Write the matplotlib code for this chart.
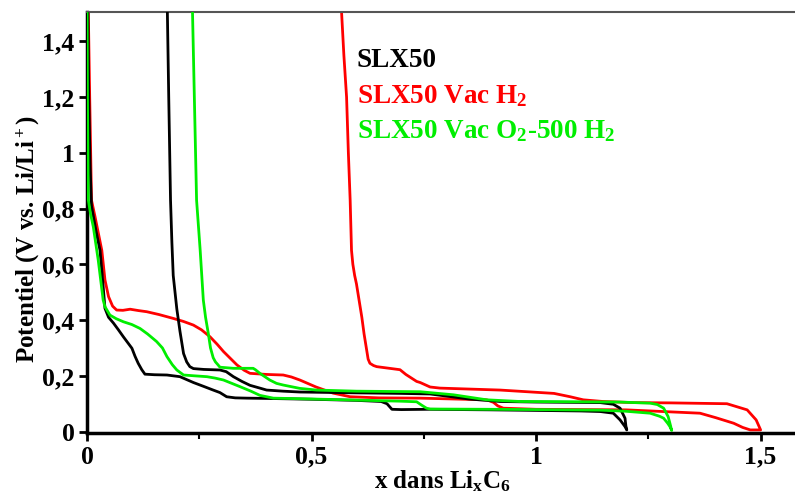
import numpy as np
import matplotlib
matplotlib.use("Agg")
import matplotlib.pyplot as plt
from matplotlib.ticker import FixedLocator

plt.rcParams['font.family'] = ['Liberation Serif', 'DejaVu Serif']
plt.rcParams['font.weight'] = 'bold'
plt.rcParams['mathtext.fontset'] = 'custom'
plt.rcParams['mathtext.rm'] = 'Liberation Serif:bold'
plt.rcParams['mathtext.it'] = 'Liberation Serif:bold'
plt.rcParams['mathtext.bf'] = 'Liberation Serif:bold'

#======================#
# data (x dans LixC6, potentiel V)
#======================#
slx50_x = [0.001, 0.004, 0.007, 0.01, 0.02, 0.029, 0.035, 0.04, 0.048, 0.059, 0.07, 0.081,
           0.1, 0.107, 0.114, 0.122, 0.129, 0.15, 0.178, 0.207, 0.237, 0.26, 0.281, 0.296,
           0.311, 0.33, 0.356, 0.4, 0.5, 0.6, 0.655, 0.668, 0.679, 0.7, 0.76, 0.9, 1.0, 1.1,
           1.143, 1.172, 1.187, 1.198, 1.202,
           1.2, 1.198, 1.187, 1.172, 1.143, 1.0, 0.92, 0.85, 0.764, 0.7, 0.6, 0.474, 0.437,
           0.4, 0.385, 0.363, 0.345, 0.326, 0.31, 0.296, 0.26, 0.237, 0.229, 0.222, 0.215,
           0.207, 0.2, 0.196, 0.192, 0.189, 0.186, 0.182, 0.178]
slx50_v = [1.6, 1.2, 0.95, 0.81, 0.72, 0.65, 0.54, 0.442, 0.41, 0.389, 0.365, 0.34,
           0.299, 0.27, 0.245, 0.222, 0.206, 0.204, 0.203, 0.197, 0.176, 0.162, 0.149, 0.14,
           0.125, 0.121, 0.12, 0.119, 0.116, 0.112, 0.108, 0.1, 0.08, 0.079, 0.08, 0.078, 0.076, 0.074,
           0.072, 0.066, 0.042, 0.018, 0.006,
           0.02, 0.048, 0.084, 0.098, 0.104, 0.106, 0.108, 0.117, 0.135, 0.137, 0.139, 0.142, 0.145,
           0.149, 0.156, 0.166, 0.18, 0.197, 0.215, 0.221, 0.223, 0.226, 0.233, 0.25, 0.28,
           0.36, 0.44, 0.5, 0.56, 0.68, 0.83, 1.2, 1.6]

vac_h2_x = [0.002, 0.003, 0.006, 0.01, 0.018, 0.033, 0.04, 0.048, 0.057, 0.066, 0.08, 0.096,
            0.115, 0.133, 0.16, 0.192, 0.215, 0.237, 0.255, 0.274, 0.29, 0.304, 0.334, 0.35,
            0.363, 0.4, 0.437, 0.455, 0.474, 0.51, 0.548, 0.586, 0.65, 0.742, 0.89, 0.905,
            0.915, 0.927, 1.0, 1.2, 1.365, 1.4, 1.44, 1.46, 1.477, 1.5,
            1.5, 1.49, 1.47, 1.425, 1.3, 1.216, 1.149, 1.105, 1.076, 1.04, 0.92, 0.786, 0.764,
            0.742, 0.734, 0.71, 0.697, 0.645, 0.638, 0.63, 0.626, 0.623, 0.617, 0.612, 0.606,
            0.6, 0.596, 0.592, 0.589, 0.586, 0.582, 0.578, 0.572, 0.567, 0.566]
vac_h2_v = [1.6, 1.5, 1.2, 0.83, 0.77, 0.65, 0.544, 0.484, 0.45, 0.436, 0.435, 0.439,
            0.434, 0.43, 0.42, 0.406, 0.395, 0.382, 0.365, 0.34, 0.313, 0.287, 0.239, 0.22,
            0.209, 0.205, 0.203, 0.196, 0.185, 0.16, 0.138, 0.125, 0.121, 0.12, 0.114, 0.105,
            0.092, 0.084, 0.08, 0.078, 0.066, 0.05, 0.03, 0.015, 0.006, 0.006,
            0.006, 0.042, 0.078, 0.1, 0.103, 0.104, 0.108, 0.114, 0.125, 0.137, 0.149, 0.156, 0.16,
            0.176, 0.18, 0.205, 0.222, 0.233, 0.237, 0.245, 0.26, 0.29, 0.35, 0.41, 0.47,
            0.53, 0.56, 0.6, 0.65, 0.83, 1.0, 1.2, 1.35, 1.5, 1.6]

vac_o2_x = [0.0, 0.001, 0.003, 0.008, 0.014, 0.025, 0.036, 0.04, 0.051, 0.065, 0.081, 0.1,
            0.118, 0.135, 0.155, 0.168, 0.178, 0.19, 0.2, 0.215, 0.24, 0.267, 0.285, 0.304, 0.341,
            0.365, 0.385, 0.4, 0.415, 0.5, 0.6, 0.7, 0.734, 0.745, 0.756, 0.764, 0.9, 1.0,
            1.143, 1.2, 1.254, 1.275, 1.284, 1.293, 1.298, 1.302,
            1.298, 1.294, 1.284, 1.27, 1.254, 1.187, 1.1, 0.964, 0.89, 0.816, 0.742, 0.6,
            0.511, 0.474, 0.437, 0.422, 0.407, 0.385, 0.375, 0.37, 0.326, 0.296, 0.292, 0.286,
            0.281, 0.275, 0.27, 0.264, 0.259, 0.252, 0.244, 0.235, 0.234]
vac_o2_v = [1.6, 1.2, 0.83, 0.78, 0.735, 0.615, 0.472, 0.448, 0.418, 0.405, 0.394, 0.384,
            0.37, 0.35, 0.323, 0.3, 0.269, 0.24, 0.221, 0.203, 0.2, 0.197, 0.192, 0.185, 0.161,
            0.145, 0.13, 0.125, 0.12, 0.117, 0.113, 0.109, 0.107, 0.095, 0.084, 0.081, 0.08, 0.079,
            0.077, 0.073, 0.066, 0.055, 0.048, 0.03, 0.018, 0.004,
            0.03, 0.054, 0.084, 0.097, 0.102, 0.106, 0.107, 0.108, 0.114, 0.132, 0.143, 0.145,
            0.149, 0.155, 0.167, 0.173, 0.185, 0.209, 0.222, 0.227, 0.227, 0.231, 0.239, 0.25,
            0.265, 0.3, 0.353, 0.41, 0.472, 0.651, 0.83, 1.5, 1.6]

labels = ["SLX50", "SLX50 Vac H$_2$", "SLX50 Vac O$_2$-500 H$_2$"]
colors = ["#000000", "#ff0000", "#00ee00"]

x_ticks = [0, 0.5, 1, 1.5]
x_ticklabels = ["0", "0,5", "1", "1,5"]
x_minor = [0.25, 0.75, 1.25]
y_ticks = [0, 0.2, 0.4, 0.6, 0.8, 1.0, 1.2, 1.4]
y_ticklabels = ["0", "0,2", "0,4", "0,6", "0,8", "1", "1,2", "1,4"]

#======================#
fig = plt.figure(figsize=(7.95, 4.94), dpi=100)
ax = fig.add_axes([87 / 795, 61 / 494, 710 / 795, 421 / 494])

ax.plot(vac_h2_x, vac_h2_v, color=colors[1], lw=2.0, zorder=2)
ax.plot(slx50_x, slx50_v, color=colors[0], lw=2.0, zorder=3)
ax.plot(vac_o2_x, vac_o2_v, color=colors[2], lw=2.0, zorder=4)

ax.set_xlim(0, 1.581)
ax.set_ylim(-0.005, 1.505)

ax.set_xticks(x_ticks)
ax.set_xticklabels(x_ticklabels)
ax.xaxis.set_minor_locator(FixedLocator(x_minor))
ax.set_yticks(y_ticks)
ax.set_yticklabels(y_ticklabels)

ax.tick_params(axis='both', which='major', direction='out', length=6, width=2,
               labelsize=18.5, pad=3)
ax.tick_params(axis='x', which='minor', direction='out', length=4, width=1.5)

ax.spines['left'].set_linewidth(2.5)
ax.spines['bottom'].set_linewidth(2.5)
ax.spines['top'].set_linewidth(1.5)
ax.spines['top'].set_color('#555555')
ax.spines['right'].set_visible(False)

ax.set_xlabel("x dans Li$_\\mathrm{x}$C$_6$", fontsize=18, fontweight='bold')
ax.set_ylabel("Potentiel (V vs. Li/Li$^+$)", fontsize=18, fontweight='bold')
ax.yaxis.set_label_coords(-0.063, 0.46)
ax.xaxis.set_label_coords(0.5, -0.083)

for i, (lab, col) in enumerate(zip(labels, colors)):
    ax.text(0.601, 1.33 - i * 0.127, lab, color=col, fontsize=19.5, fontweight='bold',
            va='center', ha='left')

fig.savefig("out.png", dpi=100)
